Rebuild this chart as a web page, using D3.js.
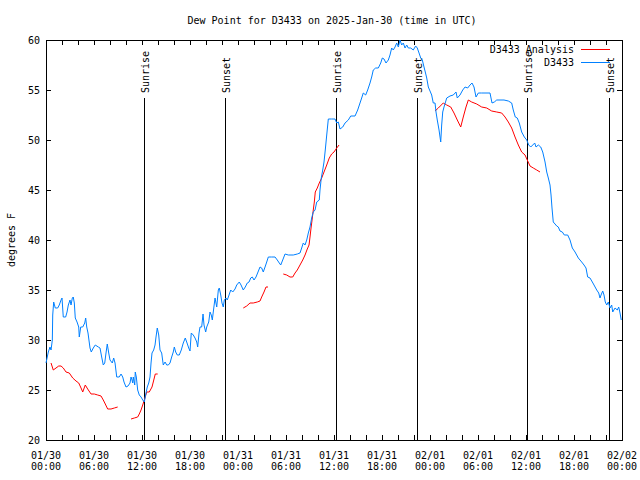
<!DOCTYPE html>
<html>
<head>
<meta charset="utf-8">
<script src="https://cdn.jsdelivr.net/npm/d3@7"></script>
<style>
  body { margin: 0; background: #fff; }
  text { font-family: "DejaVu Sans Mono", monospace; font-size: 10px; fill: #000; }
</style>
</head>
<body>
<svg id="chart" width="640" height="480"></svg>
<script>
// Hours since 2025-01-30 00:00 UTC, and dew point in degrees F
const stationHours = [0.0,0.29,0.5,0.63,0.79,0.84,0.96,1.16,1.46,1.66,1.88,2.0,2.16,2.46,2.63,2.79,3.0,3.13,3.29,3.41,3.54,3.66,3.88,4.09,4.16,4.34,4.59,4.84,4.96,5.09,5.25,5.5,5.66,5.91,6.16,6.54,6.75,6.96,7.16,7.34,7.5,7.66,7.84,8.0,8.29,8.46,8.63,8.84,9.16,9.38,9.59,9.75,10.0,10.25,10.5,10.63,10.75,10.84,10.91,11.09,11.16,11.29,11.46,11.66,11.88,12.09,12.29,12.5,12.66,12.84,13.0,13.13,13.25,13.46,13.63,13.75,13.91,14.09,14.25,14.46,14.66,14.88,15.09,15.29,15.5,15.71,15.91,16.04,16.21,16.41,16.66,16.91,17.16,17.41,17.63,17.84,18.0,18.16,18.41,18.63,18.84,18.96,19.13,19.25,19.46,19.63,19.75,19.96,20.09,20.34,20.5,20.66,20.79,20.91,21.13,21.34,21.54,21.66,21.84,22.0,22.16,22.29,22.5,22.66,22.88,23.09,23.34,23.63,23.84,24.16,24.38,24.66,24.91,25.16,25.38,25.59,25.79,26.0,26.25,26.5,26.75,26.96,27.16,27.38,27.59,27.79,28.21,28.63,28.91,29.16,29.34,29.59,29.88,30.29,30.91,31.41,31.75,31.96,32.16,32.38,32.59,32.79,33.0,33.21,33.41,33.63,33.84,34.16,34.25,34.41,34.59,34.75,34.91,35.09,35.29,35.71,36.13,36.34,36.54,36.75,37.09,37.38,37.79,38.09,38.63,38.96,39.25,39.46,39.66,39.96,40.21,40.5,40.71,40.91,41.21,41.54,41.84,42.04,42.25,42.5,42.79,43.0,43.21,43.41,43.63,43.84,44.04,44.25,44.46,44.66,44.88,45.09,45.29,45.59,45.91,46.21,46.41,46.63,46.84,47.04,47.25,47.41,47.59,47.79,48.0,48.21,48.41,48.63,48.75,48.91,49.13,49.34,49.46,49.59,49.75,50.09,50.5,50.91,51.25,51.41,51.75,52.09,52.38,52.71,53.0,53.25,53.5,53.75,54.04,54.46,55.0,55.5,55.75,56.04,56.34,56.75,57.25,57.79,58.21,58.41,58.66,58.91,59.16,59.46,59.79,60.09,60.34,60.59,60.84,61.09,61.25,61.54,61.84,62.09,62.38,62.59,62.79,63.0,63.13,63.25,63.41,63.63,63.84,64.04,64.25,64.54,64.79,65.21,65.5,65.79,66.13,66.54,66.96,67.25,67.5,67.71,68.0,68.29,68.5,68.84,69.09,69.25,69.38,69.59,69.75,69.91,70.09,70.29,70.5,70.71,70.84,71.13,71.41,71.59,71.75,71.91];
const stationDew = [27.7,28.8,29.3,29.0,30.0,32.5,33.8,33.2,33.2,33.5,34.0,34.2,32.3,32.3,32.8,33.5,34.0,33.5,34.2,34.3,33.7,32.2,31.8,31.3,30.3,31.3,31.3,31.7,32.2,31.3,30.7,29.2,28.8,29.2,29.5,29.3,29.2,28.3,27.5,27.7,28.7,29.6,28.7,28.0,27.7,28.2,27.7,26.3,26.3,26.6,26.3,25.8,25.3,25.4,25.7,26.3,26.0,25.7,26.3,25.5,26.8,26.3,25.0,24.5,24.3,24.0,23.8,24.7,25.3,25.7,26.3,27.7,28.7,29.0,29.5,30.3,31.2,30.5,29.0,28.7,27.5,27.8,27.5,27.5,27.7,28.3,28.8,29.3,28.8,28.5,28.5,29.0,29.7,30.2,29.7,29.2,28.9,30.7,30.5,30.2,29.8,29.3,30.7,31.3,31.3,32.6,31.5,30.8,31.3,31.8,32.8,32.5,32.0,32.8,34.2,33.3,35.0,35.2,34.5,33.7,33.3,34.0,34.2,34.0,34.5,35.0,34.8,35.1,35.5,35.8,35.5,35.0,35.3,35.7,35.8,36.2,36.3,36.0,36.3,36.8,37.3,37.2,36.8,37.3,37.8,38.3,38.3,38.3,38.0,37.7,37.5,38.0,38.6,38.5,38.5,38.6,38.7,39.2,39.7,39.5,40.0,40.7,41.3,42.2,42.8,43.0,43.8,44.0,45.0,46.2,47.0,47.8,49.0,50.5,52.1,52.1,52.1,51.7,51.8,51.1,51.3,51.7,52.0,52.4,52.4,53.0,53.7,54.2,54.7,54.5,55.0,55.7,56.3,57.0,57.2,57.2,57.7,58.2,58.1,57.7,58.0,58.5,59.2,59.0,59.3,59.7,59.3,60.0,59.5,59.7,59.2,59.5,59.2,59.2,59.0,59.4,59.2,58.7,58.2,58.0,57.3,56.8,56.2,55.3,54.9,54.5,53.7,53.7,52.8,52.0,51.0,49.8,51.5,52.8,53.3,54.2,54.4,54.5,54.8,54.2,54.5,55.0,55.3,55.2,55.5,55.7,55.3,54.3,54.7,54.7,54.7,54.7,53.7,53.8,54.0,54.0,54.0,53.9,53.7,53.0,52.3,52.2,51.7,50.8,50.3,50.0,49.5,49.3,49.5,49.7,49.3,49.5,49.3,48.8,47.8,46.8,46.2,45.5,44.5,43.2,41.8,41.6,41.4,41.3,40.9,40.8,40.5,40.5,40.0,39.2,38.8,38.2,37.8,37.5,37.2,36.3,36.2,35.8,35.5,35.0,34.7,34.2,34.5,34.9,34.5,33.8,33.5,33.8,33.2,33.5,32.8,33.2,33.0,33.3,32.7,32.0];

// Analysis series, drawn as separate pieces where it has gaps
const analysisHours = [
  [0.63,0.91,1.25,1.59,1.88,2.16,2.5,2.91,3.34,3.75,4.09,4.38,4.59,4.91,5.21,5.63,6.04,6.46,6.88,7.16,7.41,7.71,8.13,8.54,8.96],
  [10.63,11.04,11.46,11.66,11.88,12.09,12.29,12.59,12.91,13.25,13.41,13.66,13.96],
  [24.66,25.09,25.5,25.91,26.41,26.75,26.96,27.25,27.5,27.75],
  [29.66,30.09,30.5,30.84,31.13,31.41,31.75,32.09,32.38,32.66,32.88,33.0,33.13,33.29,33.41,33.54,33.66,33.91,34.16,34.46,34.75,35.09,35.41,35.71,36.0,36.34,36.63],
  [48.63,49.04,49.66,50.09,50.59,51.0,51.41,51.84,52.16,52.5,52.79,53.21,53.84,54.46,55.09,55.71,56.34,56.96,57.38,57.79,58.21,58.63,59.04,59.46,59.88,60.16,60.5,60.91,61.34,61.75]
];
const analysisDew = [
  [27.7,27.0,27.2,27.4,27.4,27.2,26.8,26.7,26.2,25.9,25.7,25.2,24.8,25.5,25.1,24.6,24.6,24.5,24.4,24.0,23.6,23.1,23.1,23.2,23.3],
  [22.1,22.2,22.3,22.6,23.0,23.5,24.0,24.8,24.8,25.3,25.8,26.6,26.6],
  [33.2,33.4,33.7,33.7,33.8,33.9,34.3,34.8,35.3,35.3],
  [36.6,36.5,36.3,36.3,36.7,37.0,37.5,38.0,38.5,39.1,39.5,40.3,41.2,42.2,43.0,43.8,44.8,45.2,45.7,46.2,46.8,47.5,48.2,48.6,48.8,49.2,49.5],
  [52.9,53.2,53.7,53.5,53.3,52.7,52.0,51.3,52.3,53.3,54.0,53.8,53.6,53.3,53.2,52.9,52.8,52.7,52.3,51.8,51.2,50.3,49.5,48.8,48.5,48.0,47.4,47.2,47.0,46.8]
];

const sunHours = [12.2, 22.4, 36.2, 46.4, 60.15, 70.4];
const sunLabels = ["Sunrise", "Sunset", "Sunrise", "Sunset", "Sunrise", "Sunset"];

const yTicks = [20, 25, 30, 35, 40, 45, 50, 55, 60];
const seriesNames = ["D3433 Analysis", "D3433"];
const seriesColors = ["#ff0000", "#0080ff"];

const startTime = Date.UTC(2025, 0, 30);
const toDate = h => new Date(startTime + h * 3600000);

const svg = d3.select("#chart");
const margin = {top: 40, right: 18, bottom: 40, left: 46};
const width = 640, height = 480;

const x = d3.scaleUtc()
  .domain([toDate(0), toDate(72)])
  .range([margin.left, width - margin.right]);
const y = d3.scaleLinear()
  .domain([20, 60])
  .range([height - margin.bottom, margin.top]);

const plotLeft = margin.left, plotRight = width - margin.right;
const plotTop = margin.top, plotBottom = height - margin.bottom;
const tickLen = 5;

// frame
svg.append("rect")
  .attr("x", plotLeft).attr("y", plotTop)
  .attr("width", plotRight - plotLeft).attr("height", plotBottom - plotTop)
  .attr("fill", "none").attr("stroke", "#000")
  .attr("shape-rendering", "crispEdges");

// x ticks every 2 hours (inward, both top and bottom)
const xTickDates = d3.utcHour.every(2).range(toDate(0), toDate(72.01));
const axisG = svg.append("g").attr("stroke", "#000").attr("shape-rendering", "crispEdges");
xTickDates.forEach(d => {
  axisG.append("line").attr("x1", x(d)).attr("x2", x(d)).attr("y1", plotBottom).attr("y2", plotBottom - tickLen);
  axisG.append("line").attr("x1", x(d)).attr("x2", x(d)).attr("y1", plotTop).attr("y2", plotTop + tickLen);
});
yTicks.forEach(v => {
  axisG.append("line").attr("x1", plotLeft).attr("x2", plotLeft + tickLen).attr("y1", y(v)).attr("y2", y(v));
  axisG.append("line").attr("x1", plotRight).attr("x2", plotRight - tickLen).attr("y1", y(v)).attr("y2", y(v));
});

// x labels every 6 hours, two lines
const fmtDay = d3.utcFormat("%m/%d"), fmtTime = d3.utcFormat("%H:%M");
d3.utcHour.every(6).range(toDate(0), toDate(72.01)).forEach(d => {
  const t = svg.append("text").attr("text-anchor", "middle");
  t.append("tspan").attr("x", x(d)).attr("y", 458.5).text(fmtDay(d));
  t.append("tspan").attr("x", x(d)).attr("y", 470).text(fmtTime(d));
});

// y labels
yTicks.forEach(v => {
  svg.append("text")
    .attr("x", 40).attr("y", y(v)).attr("dy", "0.35em")
    .attr("text-anchor", "end")
    .text(v);
});

svg.append("text")
  .attr("transform", "translate(15,240) rotate(-90)")
  .attr("text-anchor", "middle")
  .text("degrees F");

svg.append("text")
  .attr("x", 332).attr("y", 24)
  .attr("text-anchor", "middle")
  .text("Dew Point for D3433 on 2025-Jan-30 (time in UTC)");

// sunrise / sunset markers
sunHours.forEach((h, i) => {
  const sx = Math.round(x(toDate(h))) + 0.5;
  svg.append("line")
    .attr("x1", sx).attr("x2", sx).attr("y1", 98).attr("y2", plotBottom)
    .attr("stroke", "#000").attr("stroke-width", 1)
    .attr("shape-rendering", "crispEdges");
  svg.append("text")
    .attr("transform", `translate(${sx + 4},93) rotate(-90)`)
    .attr("text-anchor", "start")
    .text(sunLabels[i]);
});

const line = d3.line()
  .x(d => x(toDate(d[0])))
  .y(d => y(d[1]));

// analysis pieces
analysisHours.forEach((hs, k) => {
  svg.append("path")
    .datum(hs.map((h, i) => [h, analysisDew[k][i]]))
    .attr("fill", "none")
    .attr("stroke", seriesColors[0])
    .attr("stroke-width", 1)
    .attr("d", line);
});

// station series
svg.append("path")
  .datum(stationHours.map((h, i) => [h, stationDew[i]]))
  .attr("fill", "none")
  .attr("stroke", seriesColors[1])
  .attr("stroke-width", 1)
  .attr("d", line);

// legend
seriesNames.forEach((name, i) => {
  const ly = 49.5 + i * 13;
  svg.append("text")
    .attr("x", 574).attr("y", ly).attr("dy", "0.35em")
    .attr("text-anchor", "end")
    .text(name);
  svg.append("line")
    .attr("x1", 581).attr("x2", 610).attr("y1", ly).attr("y2", ly)
    .attr("stroke", seriesColors[i]).attr("stroke-width", 1);
});
</script>
</body>
</html>
